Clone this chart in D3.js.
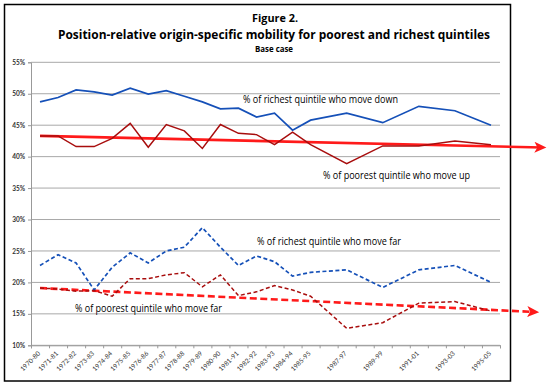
<!DOCTYPE html>
<html>
<head>
<meta charset="utf-8">
<script src="https://cdn.jsdelivr.net/npm/d3@7"></script>
<style>
  body { margin: 0; background: #fff; }
  svg { display: block; font-family: "Open Sans", Lato, sans-serif; }
</style>
</head>
<body>
<svg id="chart"></svg>
<script>
// Periods on the x axis (blank ones have no data point)
var periods = ["1970-80", "1971-81", "1972-82", "1973-83", "1974-84", "1975-85", "1976-86",
    "1977-87", "1978-88", "1979-89", "1980-90", "1981-91", "1982-92", "1983-93", "1984-94",
    "1985-95", "", "1987-97", "", "1989-99", "", "1991-01", "", "1993-03", "", "1995-05"];

// % of richest quintile who move down
var richDown = [48.7, 49.4, 50.6, 50.3, 49.8, 50.9, 49.95, 50.5, 49.6, 48.7, 47.6, 47.7, 46.3, 46.9,
    44.2, 45.8, null, 46.9, null, 45.4, null, 48.0, null, 47.3, null, 45.0];
// % of poorest quintile who move up
var poorUp = [43.3, 43.3, 41.6, 41.6, 42.9, 45.3, 41.5, 45.1, 44.1, 41.3, 45.1, 43.7, 43.5, 41.9,
    43.9, 41.9, null, 38.9, null, 41.7, null, 41.7, null, 42.5, null, 41.9];
// % of richest quintile who move far
var richFar = [22.7, 24.4, 23.1, 18.8, 22.4, 24.7, 23.1, 25.0, 25.6, 28.7, 25.6, 22.7, 24.2, 23.3,
    21.0, 21.6, null, 22.0, null, 19.2, null, 22.0, null, 22.7, null, 20.0];
// % of poorest quintile who move far
var poorFar = [19.1, 18.95, 18.6, 18.7, 17.8, 20.6, 20.6, 21.2, 21.55, 19.3, 21.2, 17.9, 18.5, 19.5,
    18.8, 17.8, null, 12.7, null, 13.6, null, 16.7, null, 16.95, null, 15.45];

// trend lines: [period index, value] at start and at the arrow
var trendUp = [[0, 43.3], [27.85, 41.45]];
var trendFar = [[0, 19.1], [27.45, 15.3]];

var yTicks = [10, 15, 20, 25, 30, 35, 40, 45, 50, 55];

var seriesLabels = [
    { text: "% of richest quintile who move down", x: 243, y: 103, w: 155 },
    { text: "% of poorest quintile who move up", x: 323, y: 179, w: 147 },
    { text: "% of richest quintile who move far", x: 257, y: 245, w: 144 },
    { text: "% of poorest quintile who move far", x: 75, y: 312, w: 147 }
];

var svgWidth = 549, svgHeight = 386;
var plotLeft = 31, plotRight = 500, plotTop = 62.3, plotBottom = 345.3;

var svg = d3.select('#chart')
    .attr('width', svgWidth)
    .attr('height', svgHeight);

svg.append('rect')
    .attr('width', svgWidth).attr('height', svgHeight)
    .attr('fill', '#fff');

// outer frame
svg.append('rect')
    .attr('x', 4.5).attr('y', 4.5)
    .attr('width', 506).attr('height', 376.5)
    .attr('fill', 'none')
    .attr('stroke', '#000')
    .attr('stroke-width', 1.5);

// titles
svg.append('text').attr('x', 275).attr('y', 22)
    .attr('text-anchor', 'middle').style('font-size', '11px').style('font-weight', 'bold')
    .attr('textLength', 46).attr('lengthAdjust', 'spacingAndGlyphs')
    .text('Figure 2.');
svg.append('text').attr('x', 274).attr('y', 38.5)
    .attr('text-anchor', 'middle').style('font-size', '12px').style('font-weight', 'bold')
    .attr('textLength', 432).attr('lengthAdjust', 'spacingAndGlyphs')
    .text('Position-relative origin-specific mobility for poorest and richest quintiles');
svg.append('text').attr('x', 274).attr('y', 52)
    .attr('text-anchor', 'middle').style('font-size', '8.5px').style('font-weight', 'bold')
    .attr('textLength', 38).attr('lengthAdjust', 'spacingAndGlyphs')
    .text('Base case');

// scales
var x = d3.scaleLinear()
    .domain([-0.5, periods.length - 0.5])
    .range([plotLeft, plotRight]);

var y = d3.scaleLinear()
    .domain([10, 55])
    .range([plotBottom, plotTop]);

// gridlines
svg.append('g')
    .selectAll('line')
    .data(yTicks)
    .enter().append('line')
    .attr('x1', plotLeft).attr('x2', plotRight)
    .attr('y1', function(d) { return y(d); })
    .attr('y2', function(d) { return y(d); })
    .attr('stroke', '#a8a8a8')
    .attr('stroke-width', 1);

// y axis
var yAxis = svg.append('g')
    .attr('transform', 'translate(' + plotLeft + ',0)')
    .call(d3.axisLeft(y).tickValues(yTicks).tickSize(3).tickFormat(function(d) { return d + '%'; }));
yAxis.select('.domain').attr('stroke', '#999');
yAxis.selectAll('.tick line').attr('stroke', '#999');
yAxis.selectAll('text').style('font-size', '6.5px').style('font-weight', 'bold')
    .style('font-family', 'Lato, sans-serif').attr('fill', '#333');

// x axis: ticks on period boundaries, labels in the middle
var xAxis = svg.append('g')
    .attr('transform', 'translate(0,' + plotBottom + ')')
    .call(d3.axisBottom(x).tickValues(d3.range(-0.5, periods.length, 1)).tickSize(3).tickFormat(''));
xAxis.select('.domain').attr('stroke', '#999');
xAxis.selectAll('.tick line').attr('stroke', '#999');

svg.append('g')
    .selectAll('text')
    .data(periods)
    .enter().append('text')
    .attr('transform', function(d, i) {
        return 'translate(' + (x(i) - 1) + ',' + (plotBottom + 7) + ') rotate(-45)';
    })
    .attr('text-anchor', 'end')
    .attr('dy', '0.35em')
    .style('font-size', '6.5px')
    .style('font-family', 'Lato, sans-serif')
    .attr('fill', '#333')
    .text(function(d) { return d; });

// arrowhead for the trend lines
svg.append('defs').append('marker')
    .attr('id', 'arrow')
    .attr('markerUnits', 'userSpaceOnUse')
    .attr('viewBox', '0 -6 13 12')
    .attr('refX', 8).attr('refY', 0)
    .attr('markerWidth', 13).attr('markerHeight', 12)
    .attr('orient', 'auto')
    .append('path')
    .attr('d', 'M0,-5.5L12,0L0,5.5L3,0Z')
    .attr('fill', '#ff1a1a');

function points(values) {
    var pts = [];
    values.forEach(function(v, i) {
        if (v !== null) pts.push([i, v]);
    });
    return pts;
}

var line = d3.line()
    .x(function(d) { return x(d[0]); })
    .y(function(d) { return y(d[1]); });

// trend lines first, then the series on top
svg.append('path')
    .attr('d', line(trendUp))
    .attr('fill', 'none')
    .attr('stroke', '#ff1a1a')
    .attr('stroke-width', 2.6)
    .attr('marker-end', 'url(#arrow)');

svg.append('path')
    .attr('d', line(trendFar))
    .attr('fill', 'none')
    .attr('stroke', '#ff1a1a')
    .attr('stroke-width', 2.6)
    .attr('stroke-dasharray', '7,3.5')
    .attr('marker-end', 'url(#arrow)');

var series = [
    { values: richDown, color: '#1550b8', width: 1.7, dash: null },
    { values: poorUp, color: '#a80d0d', width: 1.5, dash: null },
    { values: richFar, color: '#1550b8', width: 1.7, dash: '4,2.5' },
    { values: poorFar, color: '#a80d0d', width: 1.5, dash: '4,2.5' }
];

series.forEach(function(s) {
    svg.append('path')
        .attr('d', line(points(s.values)))
        .attr('fill', 'none')
        .attr('stroke', s.color)
        .attr('stroke-width', s.width)
        .attr('stroke-dasharray', s.dash)
        .attr('stroke-linejoin', 'miter');
});

// series labels
svg.append('g')
    .selectAll('text')
    .data(seriesLabels)
    .enter().append('text')
    .attr('x', function(d) { return d.x; })
    .attr('y', function(d) { return d.y; })
    .attr('textLength', function(d) { return d.w; })
    .attr('lengthAdjust', 'spacingAndGlyphs')
    .style('font-size', '10px')
    .attr('fill', '#000')
    .text(function(d) { return d.text; });
</script>
</body>
</html>
